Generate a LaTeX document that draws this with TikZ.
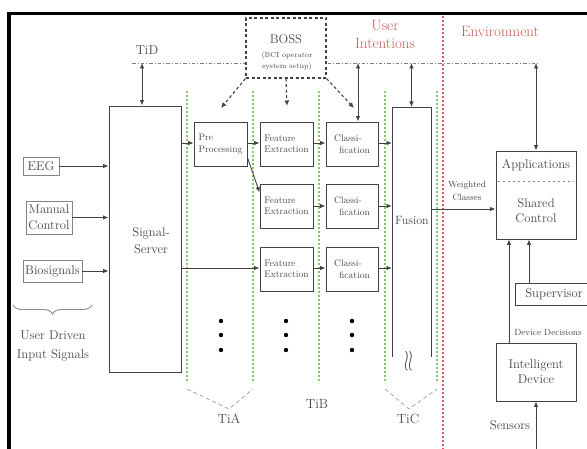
\documentclass[tikz,border=0pt]{standalone}
\usetikzlibrary{arrows.meta,calc,decorations.pathreplacing}
\definecolor{txt}{HTML}{484848}
\definecolor{ln}{HTML}{434343}
\definecolor{lgt}{HTML}{858585}
\definecolor{grn}{HTML}{86c865}
\definecolor{rd}{HTML}{dc5a56}
\definecolor{hd}{HTML}{c95f5a}
\begin{document}
\begin{tikzpicture}[x=1pt,y=-1pt,
  box/.style={draw=ln, line width=0.9pt, text=txt, inner sep=0pt},
  inbox/.style={draw=lgt, line width=0.9pt, text=txt, inner sep=0pt},
  lbl/.style={text=txt, inner sep=0pt},
  big/.style={font=\fontsize{12.7}{15}\selectfont},
  med/.style={font=\fontsize{9.5}{11.5}\selectfont},
  sml/.style={font=\fontsize{9}{13}\selectfont},
  tny/.style={font=\fontsize{7.2}{11}\selectfont},
  hdl/.style={font=\fontsize{15}{18}\selectfont, text=hd, inner sep=0pt},
  arr/.style={draw=ln, line width=0.9pt, -{Latex[length=5.5pt,width=4.5pt]}},
  darr/.style={draw=ln, line width=0.9pt, {Latex[length=5.5pt,width=4.5pt]}-{Latex[length=5.5pt,width=4.5pt]}},
  barr/.style={draw=ln, line width=1.1pt, dash pattern=on 3pt off 2.5pt, -{Latex[length=5.5pt,width=5pt]}},
  gline/.style={draw=grn, line width=1.1pt, dash pattern=on 1.8pt off 2.2pt},
  rline/.style={draw=rd, line width=1.2pt, dash pattern=on 1.8pt off 2.2pt},
  chev/.style={draw=black!35, line width=0.8pt, dash pattern=on 4pt off 3pt},
  tdline/.style={draw=black!50, line width=0.9pt, dash pattern=on 3.5pt off 2pt on 1pt off 2pt}
]
\useasboundingbox (0,0) rectangle (587,449);
\fill[white] (0,0) rectangle (587,449);

% frame
\draw[line width=3.5pt, black] (9,449) -- (9,13.5) -- (587,13.5);

% time interval lines
\foreach \x in {187,253,319,385,437} \draw[gline] (\x,91) -- (\x,383);
\draw[rline] (443,16) -- (443,449);
\draw[chev] (187,389) -- (229,409) -- (253,389);
\draw[chev] (385,389) -- (409,409) -- (437,389);
\node[lbl, font=\fontsize{13.3}{15}\selectfont] (tia) at (229,419) {TiA};
\node[lbl, font=\fontsize{13.3}{15}\selectfont] (tib) at (317,404) {TiB};
\node[lbl, font=\fontsize{13.3}{15}\selectfont] (tic) at (408,419) {TiC};

% headings
\node[hdl, align=center] (uint) at (385,34) {User\\Intentions};
\node[hdl] (env) at (500,31) {Environment};

% TiD line
\coordinate (tdL) at (132,63);
\coordinate (tdR) at (540,63);
\draw[tdline] (tdL) -- (tdR);
\node[lbl, font=\fontsize{13}{15}\selectfont] (tid) at (147,50) {TiD};

% BOSS
\node[draw=ln, fill=white, line width=1.1pt, dash pattern=on 3pt off 2.5pt, minimum width=80pt, minimum height=60pt, inner sep=0pt] (boss) at (286,48) {};
\node[lbl, big] (bosst) at (286,39) {BOSS};
\node[lbl, tny, align=center] (bosss) at (287,61) {(BCI operator\\system setup)};

% inputs
\node[inbox, big, minimum width=36pt, minimum height=18pt] (eeg) at (41,166) {EEG};
\node[inbox, font=\fontsize{12.7}{16}\selectfont, align=center, minimum width=46pt, minimum height=33pt] (man) at (49,217.5) {Manual\\Control};
\node[inbox, big, minimum width=59pt, minimum height=22pt] (bio) at (52.5,271) {Biosignals};
\draw[decorate, decoration={brace, amplitude=9pt}, draw=black!45, line width=0.9pt] (92,305) -- (13,305);
\node[lbl, font=\fontsize{12.7}{19}\selectfont, align=center] (udis) at (53,346) {User Driven\\Input Signals};

% signal server
\node[box, minimum width=72pt, minimum height=266pt] (server) at (145,239) {};
\node[lbl, font=\fontsize{12.7}{17}\selectfont, align=center] (servl) at (151,241) {Signal-\\Server};

% processing boxes
\node[box, med, align=left, minimum width=53pt, minimum height=44pt] (pre) at (220.5,144) {Pre\\Processing};
\node[box, med, align=left, minimum width=53pt, minimum height=44pt] (fe1) at (286.5,144) {Feature\\Extraction};
\node[box, med, align=left, minimum width=53pt, minimum height=44pt] (fe2) at (286.5,206) {Feature\\Extraction};
\node[box, med, align=left, minimum width=53pt, minimum height=44pt] (fe3) at (286.5,269) {Feature\\Extraction};
\node[box, med, align=left, minimum width=52pt, minimum height=44pt] (cl1) at (352,144) {Classi-\\\hspace*{5pt}fication};
\node[box, med, align=left, minimum width=52pt, minimum height=44pt] (cl2) at (352,206) {Classi-\\\hspace*{5pt}fication};
\node[box, med, align=left, minimum width=52pt, minimum height=44pt] (cl3) at (352,269) {Classi-\\\hspace*{5pt}fication};

% fusion
\node[minimum width=39pt, minimum height=250pt, inner sep=0pt, outer sep=0pt] (fusion) at (411.5,232) {};
\draw[draw=ln, line width=0.9pt] (fusion.south west) -- (fusion.north west) -- (fusion.north east) -- (fusion.south east);
\node[lbl, font=\fontsize{12}{14}\selectfont] (fusl) at (412,220) {Fusion};
\node[lbl, font=\fontsize{14}{16}\selectfont] (wr) at (409,361) {\scalebox{1.15}[2]{$\wr\mkern-1mu\wr$}};

% dots
\foreach \x in {221,286,352} \foreach \y in {321,335,350} \fill[black] (\x,\y) circle[radius=2.2pt];

% right side
\node[box, minimum width=80pt, minimum height=88pt] (app) at (536,195) {};
\draw[draw=lgt, line width=0.9pt, dash pattern=on 2.5pt off 2.5pt] ($(app.west)+(2,-14)$) -- ($(app.east)+(-2,-14)$);
\node[lbl, big] (appl) at (536,165) {Applications};
\node[lbl, big, align=center] (shc) at (536,210.5) {Shared\\Control};
\node[box, big, minimum width=78pt, minimum height=22pt] (sup) at (554,294) {Supervisor};
\node[box, big, align=center, minimum width=80pt, minimum height=58pt] (dev) at (536,372) {Intelligent\\Device};
\node[lbl, sml] (ddec) at (548,332) {Device Decisions};
\node[lbl, big] (sens) at (510,425) {Sensors};
\node[lbl, sml, align=center] (wcl) at (467,190.5) {Weighted\\Classes};

% connectors: inputs
\draw[arr] (eeg.east) -- (eeg.east -| server.west);
\draw[arr] (man.east) -- (man.east -| server.west);
\draw[arr] (bio.east) -- (bio.east -| server.west);

% connectors: pipeline
\draw[arr] ($(server.east |- pre.west)+(0,-1)$) -- ($(pre.west)+(0,-1)$);
\draw[arr] ($(pre.east)+(0,-1)$) -- ($(fe1.west)+(0,-1)$);
\draw[arr] ($(fe1.east)+(0,-1)$) -- ($(cl1.west)+(0,-1)$);
\draw[arr] ($(cl1.east)+(0,-1)$) -- ($(cl1.east -| fusion.west)+(0,-1)$);
\draw[arr] ($(pre.south east)+(0,-9)$) -- ($(fe2.north west)+(0,9)$);
\draw[arr] (fe2.east) -- (cl2.west);
\draw[arr] (cl2.east) -- (cl2.east -| fusion.west);
\draw[arr] ($(server.east |- fe3.west)+(0,-1)$) -- ($(fe3.west)+(0,-1)$);
\draw[arr] ($(fe3.east)+(0,-1)$) -- ($(cl3.west)+(0,-1)$);
\draw[arr] ($(cl3.east)+(0,-1)$) -- ($(cl3.east -| fusion.west)+(0,-1)$);

% BOSS arrows
\coordinate (ba1) at (221,108);
\coordinate (ba2) at (287,106);
\coordinate (ba3) at (354,108);
\draw[barr] (boss.south west) -- (ba1);
\draw[barr] (boss.south) -- (ba2);
\draw[barr] (boss.south east) -- (ba3);

% TiD double arrows
\coordinate (d1) at (142,63);
\coordinate (d2) at (358,63);
\draw[darr] (d1) -- (d1 |- server.north);
\draw[darr] (d2) -- (d2 |- cl1.north);
\draw[darr] (fusion.north |- tdL) -- (fusion.north);
\draw[darr] (app.north |- tdL) -- (app.north);

% right connectors
\coordinate (wc) at ($(app.west)+(0,14)$);
\draw[arr] (fusion.east |- wc) -- (wc);
\coordinate (sc) at ($(app.south)+(-7,0)$);
\draw[arr] (sc |- sup.north) -- (sc);
\coordinate (dc) at ($(app.south)+(-27,0)$);
\draw[arr] (dc |- dev.north) -- (dc);
\coordinate (sn) at (536,449);
\draw[arr] (sn) -- (dev.south);
\end{tikzpicture}
\end{document}
